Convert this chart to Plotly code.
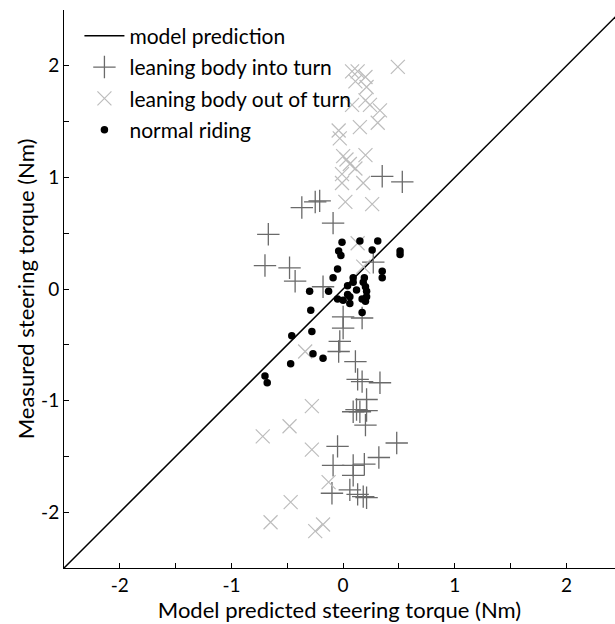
import plotly.graph_objects as go

# ---- data ----
into_x = [0.35, 0.53, -0.37, -0.25, -0.21, -0.09, -0.67, -0.70, -0.48, -0.43, 0.27, -0.18,
          0.00, 0.17, 0.00, -0.03, -0.04, 0.11, 0.13, 0.17, 0.33, 0.21, 0.09, 0.12, 0.15, 0.21,
          0.20, 0.48, -0.05, 0.32, -0.09, 0.09, 0.19, 0.09, 0.06, -0.10, 0.13, 0.18, 0.21]
into_y = [1.01, 0.96, 0.73, 0.78, 0.79, 0.59, 0.49, 0.21, 0.19, 0.07, 0.24, 0.02,
          -0.25, -0.26, -0.35, -0.47, -0.56, -0.65, -0.81, -0.83, -0.84, -0.99, -1.10, -1.08, -1.10, -1.09,
          -1.22, -1.38, -1.41, -1.51, -1.58, -1.58, -1.57, -1.67, -1.80, -1.83, -1.84, -1.86, -1.87]

out_x = [0.49, 0.08, 0.13, 0.20, 0.11, 0.21, 0.20, 0.24, 0.08, 0.33, 0.31, 0.15, -0.04, -0.03,
         0.20, 0.00, 0.03, 0.06, 0.11, -0.01, -0.01, 0.18, 0.02, 0.26, 0.13, 0.18,
         -0.34, -0.28, -0.48, -0.72, -0.28, -0.13, -0.47, -0.65, -0.25, -0.18]
out_y = [1.99, 1.95, 1.95, 1.90, 1.86, 1.81, 1.69, 1.65, 1.65, 1.60, 1.49, 1.45, 1.42, 1.35,
         1.20, 1.19, 1.16, 1.12, 1.08, 1.03, 0.95, 0.95, 0.78, 0.76, 0.41, 0.20,
         -0.56, -1.05, -1.23, -1.32, -1.44, -1.73, -1.91, -2.09, -2.17, -2.11]

normal_x = [-0.01, 0.15, 0.31, -0.04, -0.02, 0.26, 0.51, 0.51, -0.05, -0.09, 0.35, 0.35, 0.09,
            0.09, 0.19, 0.04, -0.30, -0.13, 0.12, 0.20, 0.21, 0.04, -0.05, 0.00, 0.06, 0.17,
            0.21, 0.20, 0.06, -0.29, 0.17, -0.46, -0.28, -0.27, -0.18, -0.47, -0.70, -0.68, 0.18]
normal_y = [0.42, 0.43, 0.43, 0.34, 0.30, 0.35, 0.34, 0.31, 0.18, 0.10, 0.16, 0.10, 0.10,
            0.06, 0.10, 0.03, -0.02, -0.02, -0.01, 0.02, -0.02, -0.05, -0.09, -0.10, -0.07, -0.09,
            -0.07, -0.11, -0.13, -0.19, -0.21, -0.42, -0.38, -0.58, -0.62, -0.67, -0.78, -0.84, 0.06]

model_x = [-2.5, 2.5]
model_y = [-2.5, 2.5]

tick_vals = [-2.5, -2.0, -1.5, -1.0, -0.5, 0.0, 0.5, 1.0, 1.5, 2.0, 2.5]
tick_text = ["", "-2", "", "-1", "", "0", "", "1", "", "2", ""]

FONT = "Lato, Carlito, Calibri, sans-serif"

fig = go.Figure()
fig.add_trace(go.Scatter(x=model_x, y=model_y, mode="lines", name="model prediction",
                         legendgroup="a", line=dict(color="black", width=1.5)))
fig.add_trace(go.Scatter(x=into_x, y=into_y, mode="markers", name="leaning body into turn",
                         legendgroup="b",
                         marker=dict(symbol="cross-thin", size=16,
                                     line=dict(color="#6a6a6a", width=1.3))))
fig.add_trace(go.Scatter(x=out_x, y=out_y, mode="markers", name="leaning body out of turn",
                         legendgroup="c",
                         marker=dict(symbol="x-thin", size=14,
                                     line=dict(color="#bdbdbd", width=1.2))))
fig.add_trace(go.Scatter(x=normal_x, y=normal_y, mode="markers", name="normal riding",
                         legendgroup="d",
                         marker=dict(symbol="circle", size=7.5, color="black")))

axis_common = dict(showline=True, linecolor="black", linewidth=1, ticks="inside", ticklen=5,
                   tickcolor="black", showgrid=False, zeroline=False, tickmode="array",
                   tickvals=tick_vals, ticktext=tick_text,
                   tickfont=dict(family=FONT, size=19, color="black"))

fig.update_layout(
    width=615, height=624,
    margin=dict(l=64, r=0, t=10, b=56),
    paper_bgcolor="white", plot_bgcolor="white",
    font=dict(family=FONT, size=20, color="black"),
    xaxis=dict(range=[-2.5, 2.435], title=dict(text="Model predicted steering torque (Nm)",
               font=dict(family=FONT, size=22), standoff=2), **axis_common),
    yaxis=dict(range=[-2.5, 2.5], title=dict(text="Measured steering torque (Nm)",
               font=dict(family=FONT, size=22), standoff=0), **axis_common),
    legend=dict(x=0.028, y=0.99, xanchor="left", yanchor="top", bgcolor="rgba(0,0,0,0)",
                font=dict(family=FONT, size=21), tracegroupgap=1, itemwidth=40),
    showlegend=True,
)

fig.write_html("out.html")
